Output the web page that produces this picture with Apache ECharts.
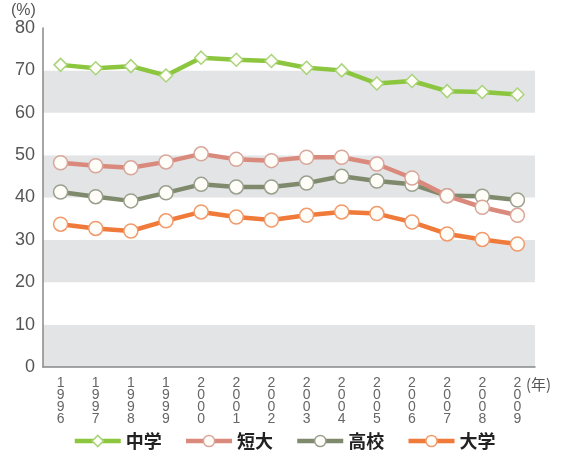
<!DOCTYPE html>
<html>
<head>
<meta charset="utf-8">
<script src="https://cdn.jsdelivr.net/npm/echarts@6/dist/echarts.min.js"></script>
<style>
  html, body { margin: 0; padding: 0; background: #ffffff; }
  #chart { width: 568px; height: 455px; }
</style>
</head>
<body>
<div id="chart"></div>
<script>
// Years on the category axis
const years = ['1996','1997','1998','1999','2000','2001','2002','2003','2004','2005','2006','2007','2008','2009'];

// Series values (%)
const juniorHigh = [71.3, 70.5, 71.0, 68.8, 73.0, 72.5, 72.2, 70.6, 70.0, 66.9, 67.5, 65.1, 64.9, 64.3];
const juniorCollege = [48.2, 47.5, 47.0, 48.4, 50.3, 49.0, 48.7, 49.5, 49.5, 47.9, 44.6, 40.4, 37.7, 35.8];
const highSchool = [41.3, 40.2, 39.2, 41.1, 43.1, 42.5, 42.5, 43.4, 45.0, 43.9, 43.1, 40.4, 40.3, 39.4];
const university = [33.7, 32.7, 32.1, 34.5, 36.6, 35.4, 34.7, 35.8, 36.6, 36.2, 34.2, 31.4, 30.1, 29.0];

const seriesNames = ['中学', '短大', '高校', '大学'];
const yTicks = { min: 0, max: 80, interval: 10 };

const colors = ['#8cc63f', '#d98a7c', '#7f8a6c', '#f07a3a'];
const borders = ['#a9d47a', '#d9a69c', '#9aa08e', '#f19a6c'];

function makeSeries(name, data, idx, symbol) {
  return {
    name: name,
    type: 'line',
    data: data,
    symbol: symbol,
    symbolSize: symbol === 'diamond' ? 13 : 14,
    lineStyle: { color: colors[idx], width: 4.5 },
    itemStyle: { color: '#fffdf8', borderColor: borders[idx], borderWidth: 1.5 },
    emphasis: { disabled: true },
    animation: false,
    z: 10 - idx
  };
}

const chart = echarts.init(document.getElementById('chart'), null, { renderer: 'canvas' });
chart.setOption({
  backgroundColor: '#ffffff',
  animation: false,
  grid: { left: 43, right: 33, top: 28, bottom: 88 },
  graphic: [
    { type: 'text', left: 11, top: 3, style: { text: '(%)', font: '16px "Liberation Sans", sans-serif', fill: '#555' } },
    { type: 'text', left: 526, top: 377, style: { text: '(年)', font: '15px "Noto Sans CJK JP", sans-serif', fill: '#555' } }
  ],
  legend: {
    top: 427,
    left: 'center',
    itemWidth: 46,
    itemHeight: 14,
    itemGap: 22,
    textStyle: { fontSize: 18, color: '#222', fontFamily: '"Noto Sans CJK JP", sans-serif', fontWeight: 'bold' },
    data: seriesNames.map((n, i) => ({
      name: n,
      itemStyle: { color: '#fffdf8', borderColor: borders[i], borderWidth: 1.5 },
      lineStyle: { color: colors[i], width: 4.5 }
    }))
  },
  xAxis: {
    type: 'category',
    data: years,
    boundaryGap: true,
    axisLine: { lineStyle: { color: '#888', width: 1.5 } },
    axisTick: { show: false },
    axisLabel: {
      interval: 0,
      margin: 10,
      color: '#666',
      fontSize: 14,
      lineHeight: 12,
      fontFamily: '"Liberation Sans", sans-serif',
      formatter: v => v.split('').join('\n')
    }
  },
  yAxis: {
    type: 'value',
    min: yTicks.min,
    max: yTicks.max,
    interval: yTicks.interval,
    axisLine: { show: true, lineStyle: { color: '#888', width: 1.5 } },
    axisTick: { show: false },
    splitLine: { show: false },
    splitArea: { show: true, areaStyle: { color: ['#e3e4e6', '#ffffff'] } },
    axisLabel: { color: '#555', fontSize: 18, margin: 8, fontFamily: '"Liberation Sans", sans-serif' }
  },
  series: [
    makeSeries(seriesNames[0], juniorHigh, 0, 'diamond'),
    makeSeries(seriesNames[1], juniorCollege, 1, 'circle'),
    makeSeries(seriesNames[2], highSchool, 2, 'circle'),
    makeSeries(seriesNames[3], university, 3, 'circle')
  ]
});
</script>
</body>
</html>
